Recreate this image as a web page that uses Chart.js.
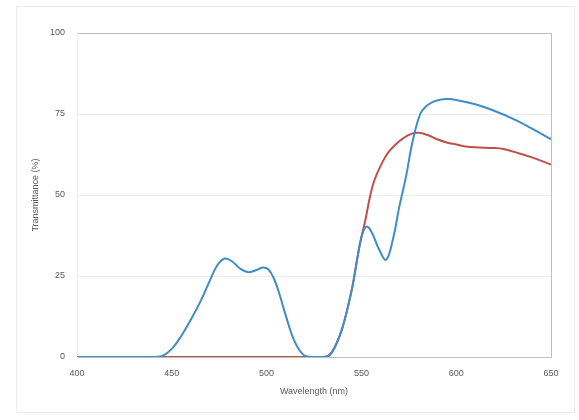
<!DOCTYPE html>
<html>
<head>
<meta charset="utf-8">
<script src="https://cdn.jsdelivr.net/npm/chart.js@4.4.1/dist/chart.umd.min.js"></script>
<style>
  html, body { margin: 0; padding: 0; background: #fff; }
  #frame {
    position: absolute; left: 16px; top: 6px; width: 557px; height: 405px;
    border: 1px solid #ececec;
  }
  #wrap { position: absolute; left: 0; top: 0; width: 579px; height: 420px; }
</style>
</head>
<body>
<div id="frame"></div>
<div id="wrap"><canvas id="myChart" width="579" height="420"></canvas></div>
<script>
// blue filter curve
const blueWl = [400, 420, 440, 445, 450, 455, 460, 465, 470, 474, 478, 482, 486, 490, 494, 498, 501, 504, 507, 510, 515, 520, 525, 530, 533, 536, 540, 545, 548, 550, 552.5, 555, 559.5, 563, 566.5, 570, 573.5, 577, 581, 584, 588, 592, 596, 600, 610, 620, 630, 640, 650]
const blueT = [0, 0, 0, 0.3, 2.5, 6.5, 11.5, 17, 23.5, 28.3, 30.4, 29.4, 27.3, 26.2, 26.7, 27.6, 27, 24, 19, 13, 4.5, 0.4, 0, 0, 0.5, 3, 9, 21, 31, 37, 40.2, 39, 33, 30, 36, 46.4, 55.6, 66.5, 75, 77.3, 78.8, 79.5, 79.6, 79.3, 78, 76, 73.5, 70.5, 67.2]

// red filter curve
const redWl = [400, 450, 500, 530, 533, 536, 540, 545, 548, 550, 552, 554, 556, 558, 561, 564, 568, 572, 576, 580, 585, 590, 595, 600, 605, 610, 620, 625, 630, 640, 650]
const redT = [0, 0, 0, 0, 0.5, 3, 9, 21, 31, 37, 42, 48, 53, 56.3, 60, 63, 65.6, 67.5, 68.8, 69.2, 68.5, 67.2, 66.2, 65.6, 65, 64.7, 64.5, 64.2, 63.4, 61.6, 59.4]

const xTicks = [400, 450, 500, 550, 600, 650]
const yTicks = [0, 25, 50, 75, 100]

const toPoints = (xs, ys) => xs.map((x, i) => ({x: x, y: ys[i]}))

const ctx = document.getElementById('myChart').getContext('2d');

const tickFont = {family: 'Liberation Sans', size: 9}
const titleFont = {family: 'Liberation Sans', size: 9}

const myChart = new Chart(ctx, {
    type: 'line',
    data: {
        datasets: [{
            label: 'Blue',
            data: toPoints(blueWl, blueT),
            borderColor: '#3f8dc6',
            borderWidth: 2,
            pointRadius: 0,
            tension: 0.4
        }, {
            label: 'Red',
            data: toPoints(redWl, redT),
            borderColor: '#c0504d',
            borderWidth: 2,
            pointRadius: 0,
            tension: 0.4
        }]
    },
    options: {
        responsive: false,
        animation: false,
        layout: {padding: {top: 33, right: 28, bottom: 19, left: 26}},
        plugins: {legend: {display: false}, tooltip: {enabled: false}},
        scales: {
            x: {
                type: 'linear',
                min: 400,
                max: 650,
                afterBuildTicks: (scale) => { scale.ticks = xTicks.map(v => ({value: v})) },
                afterFit: (scale) => { scale.height = 44 },
                ticks: {color: '#595959', font: tickFont, padding: 11},
                grid: {
                    drawTicks: false,
                    color: (c) => c.tick && c.tick.value === 650 ? '#bfbfbf' : 'rgba(0,0,0,0)'
                },
                border: {color: '#bfbfbf'},
                title: {display: true, text: 'Wavelength (nm)', color: '#595959', font: titleFont}
            },
            y: {
                min: 0,
                max: 100,
                afterBuildTicks: (scale) => { scale.ticks = yTicks.map(v => ({value: v})) },
                afterFit: (scale) => { scale.width = 51 },
                ticks: {color: '#595959', font: tickFont, padding: 12},
                grid: {
                    drawTicks: false,
                    color: (c) => c.tick && c.tick.value === 100 ? '#bfbfbf' : '#ececec'
                },
                border: {color: '#f0f0f0'},
                title: {display: true, text: 'Transmittance (%)', color: '#595959', font: titleFont}
            }
        }
    }
});
</script>
</body>
</html>
